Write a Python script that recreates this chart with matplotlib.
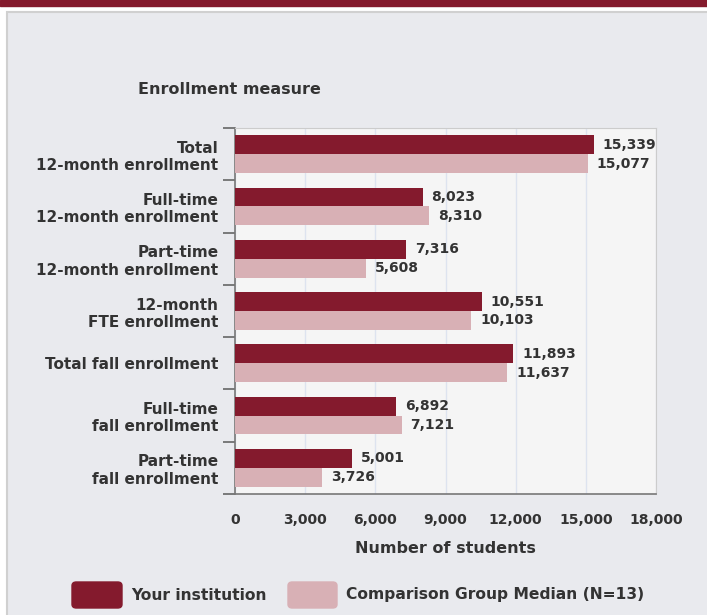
import numpy as np
import matplotlib
matplotlib.use('Agg')
import matplotlib.pyplot as plt
from matplotlib.patches import Rectangle, FancyBboxPatch

categories = ['Total\n12-month enrollment', 'Full-time\n12-month enrollment',
              'Part-time\n12-month enrollment', '12-month\nFTE enrollment',
              'Total fall enrollment', 'Full-time\nfall enrollment',
              'Part-time\nfall enrollment']
yours = [15339, 8023, 7316, 10551, 11893, 6892, 5001]
median = [15077, 8310, 5608, 10103, 11637, 7121, 3726]
xticks = [0, 3000, 6000, 9000, 12000, 15000, 18000]
series_names = ['Your institution', 'Comparison Group Median (N=13)']

MAROON = '#841a2d'
PINK = '#d8b0b5'
TXT = '#333333'

plt.rcParams['font.family'] = ['DejaVu Sans']
plt.rcParams['font.weight'] = 'bold'
plt.rcParams['axes.labelweight'] = 'bold'

W, H = 707, 615
fig = plt.figure(figsize=(W / 100, H / 100), dpi=100)
fig.patch.set_facecolor('white')

# top band and panel
fig.add_artist(Rectangle((0, 1 - 6 / H), 1, 6 / H, transform=fig.transFigure,
                         color=MAROON, zorder=0))
fig.add_artist(Rectangle((7 / W, -0.01), 1, (H - 12) / H + 0.01,
                         transform=fig.transFigure, facecolor='#e9eaee',
                         edgecolor='#d0d0d0', lw=1.5, zorder=0))

ax = fig.add_axes([235 / W, 1 - 494 / H, (656 - 235) / W, (494 - 128) / H])
ax.set_facecolor('#f5f5f5')

n = len(categories)
y = np.arange(n)
h = 0.36
ax.barh(y - h / 2, yours, height=h, color=MAROON, zorder=3)
ax.barh(y + h / 2, median, height=h, color=PINK, zorder=3)

for i in range(n):
    ax.text(yours[i] + 380, y[i] - h / 2, f'{yours[i]:,}', va='center',
            ha='left', fontsize=10, color=TXT, zorder=4)
    ax.text(median[i] + 380, y[i] + h / 2, f'{median[i]:,}', va='center',
            ha='left', fontsize=10, color=TXT, zorder=4)

ax.set_xlim(0, 18000)
ax.set_ylim(n - 0.5, -0.5)
ax.set_xticks(xticks)
ax.set_xticklabels([f'{v:,}' for v in xticks], fontsize=10, color=TXT)
ax.tick_params(axis='x', length=0, pad=14)
ax.set_yticks(y)
ax.set_yticklabels(categories, fontsize=11, color=TXT, linespacing=1.2)
ax.tick_params(axis='y', length=0, pad=12)
ax.set_yticks(np.arange(n + 1) - 0.5, minor=True)
ax.tick_params(axis='y', which='minor', length=9, color='#666666', width=1.2)
ax.grid(axis='x', color='#dde3ef', lw=1, zorder=0)

for side in ['top', 'right']:
    ax.spines[side].set_color('#cccccc')
ax.spines['left'].set_color('#777777')
ax.spines['bottom'].set_color('#777777')
ax.spines['left'].set_linewidth(1.2)
ax.spines['bottom'].set_linewidth(1.2)

ax.set_xlabel('Number of students', fontsize=11.5, color=TXT, labelpad=10)
fig.text(138 / W, 1 - 90 / H, 'Enrollment measure', fontsize=11.5, color=TXT,
         va='center', ha='left')

# legend
fig.add_artist(FancyBboxPatch((72 / W, 1 - 608 / H), 50 / W, 26 / H,
                              boxstyle='round,pad=0,rounding_size=0.006',
                              transform=fig.transFigure, color=MAROON))
fig.text(131 / W, 1 - 595 / H, series_names[0], fontsize=11.2, color=TXT,
         va='center')
fig.add_artist(FancyBboxPatch((288 / W, 1 - 608 / H), 49 / W, 26 / H,
                              boxstyle='round,pad=0,rounding_size=0.006',
                              transform=fig.transFigure, color=PINK))
fig.text(346 / W, 1 - 595 / H, series_names[1], fontsize=11.2, color=TXT,
         va='center')

fig.savefig('out.png', dpi=100)
